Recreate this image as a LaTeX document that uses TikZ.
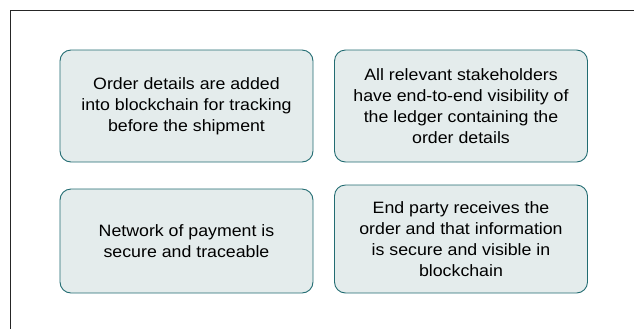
\documentclass[tikz,border=0pt]{standalone}
\usepackage{fontspec}
\setmainfont{Liberation Sans}[FakeStretch=1.08]
\usepackage{tikz}
\usetikzlibrary{positioning}
\usepackage{xcolor}

\definecolor{boxfill}{RGB}{228,236,236}
\definecolor{boxline}{RGB}{34,108,114}

\begin{document}
\begin{tikzpicture}[x=1bp, y=-1bp,
  box/.style={draw=boxline, fill=boxfill, line width=0.9bp, rounded corners=11bp,
    minimum width=253bp, align=center, inner sep=0pt,
    font=\fontsize{16.5}{21}\selectfont}]

\useasboundingbox (0,0) rectangle (634,329);

% Frame (only top and left edges show)
\draw[line width=1bp, black!85] (634,10) -- (10,10) -- (10,329);

% Top row
\node[box, minimum height=112bp] (order) at (186.5,106)
  {Order details are added\\into blockchain for tracking\\before the shipment};
\node[box, minimum height=112bp] (ledger) at (461,106)
  {All relevant stakeholders\\have end-to-end visibility of\\the ledger containing the\\order details};

% Bottom row
\node[box, minimum height=104bp] (payment) at (186.5,241)
  {Network of payment is\\secure and traceable};
\node[box, minimum height=108bp] (receive) at (461,239)
  {End party receives the\\order and that information\\is secure and visible in\\blockchain};

\end{tikzpicture}
\end{document}
